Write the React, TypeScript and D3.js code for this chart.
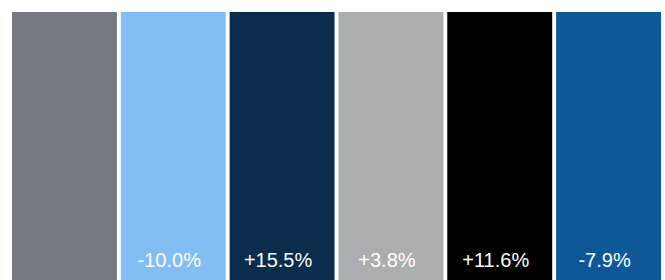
import React, { useEffect, useRef } from 'react';
import * as d3 from 'd3';

// one tile per segment, all full height
const categories = ['A', 'B', 'C', 'D', 'E', 'F'];
const changes: (number | null)[] = [null, -10.0, 15.5, 3.8, 11.6, -7.9];
const colors = ['#757980', '#82bef4', '#0a2c4d', '#abaeb1', '#000000', '#0e5799'];

const W = 665;
const H = 280;

const App: React.FC = () => {
  const ref = useRef<SVGSVGElement>(null);

  useEffect(() => {
    const svg = d3.select(ref.current);
    svg.selectAll('*').remove();

    const x = d3.scaleBand<string>()
      .domain(categories)
      .range([12, 661])
      .paddingInner(0.036)
      .paddingOuter(0);

    const y = d3.scaleLinear().domain([0, 1]).range([H, 12]);

    // plain hyphen, not the unicode minus d3.format gives
    const fmt = (v: number) => (v > 0 ? '+' : v < 0 ? '-' : '') + Math.abs(v).toFixed(1) + '%';

    svg.selectAll('rect')
      .data(categories)
      .enter().append('rect')
      .attr('x', (d) => x(d)!)
      .attr('y', y(1))
      .attr('width', x.bandwidth())
      .attr('height', y(0) - y(1))
      .attr('fill', (_d, i) => colors[i]);

    svg.selectAll('text.lbl')
      .data(categories)
      .enter().append('text')
      .attr('class', 'lbl')
      .attr('x', (d) => x(d)! + x.bandwidth() / 2 - 4)
      .attr('y', 267)
      .attr('text-anchor', 'middle')
      .attr('fill', '#ffffff')
      .style('font-family', '"Liberation Sans", Arial, sans-serif')
      .style('font-size', '20px')
      .text((_d, i) => (changes[i] == null ? '' : fmt(changes[i] as number)));
  }, []);

  return (
    <svg ref={ref} width={W} height={H} style={{ position: 'absolute', left: 0, top: 0 }} />
  );
};

export default App;
